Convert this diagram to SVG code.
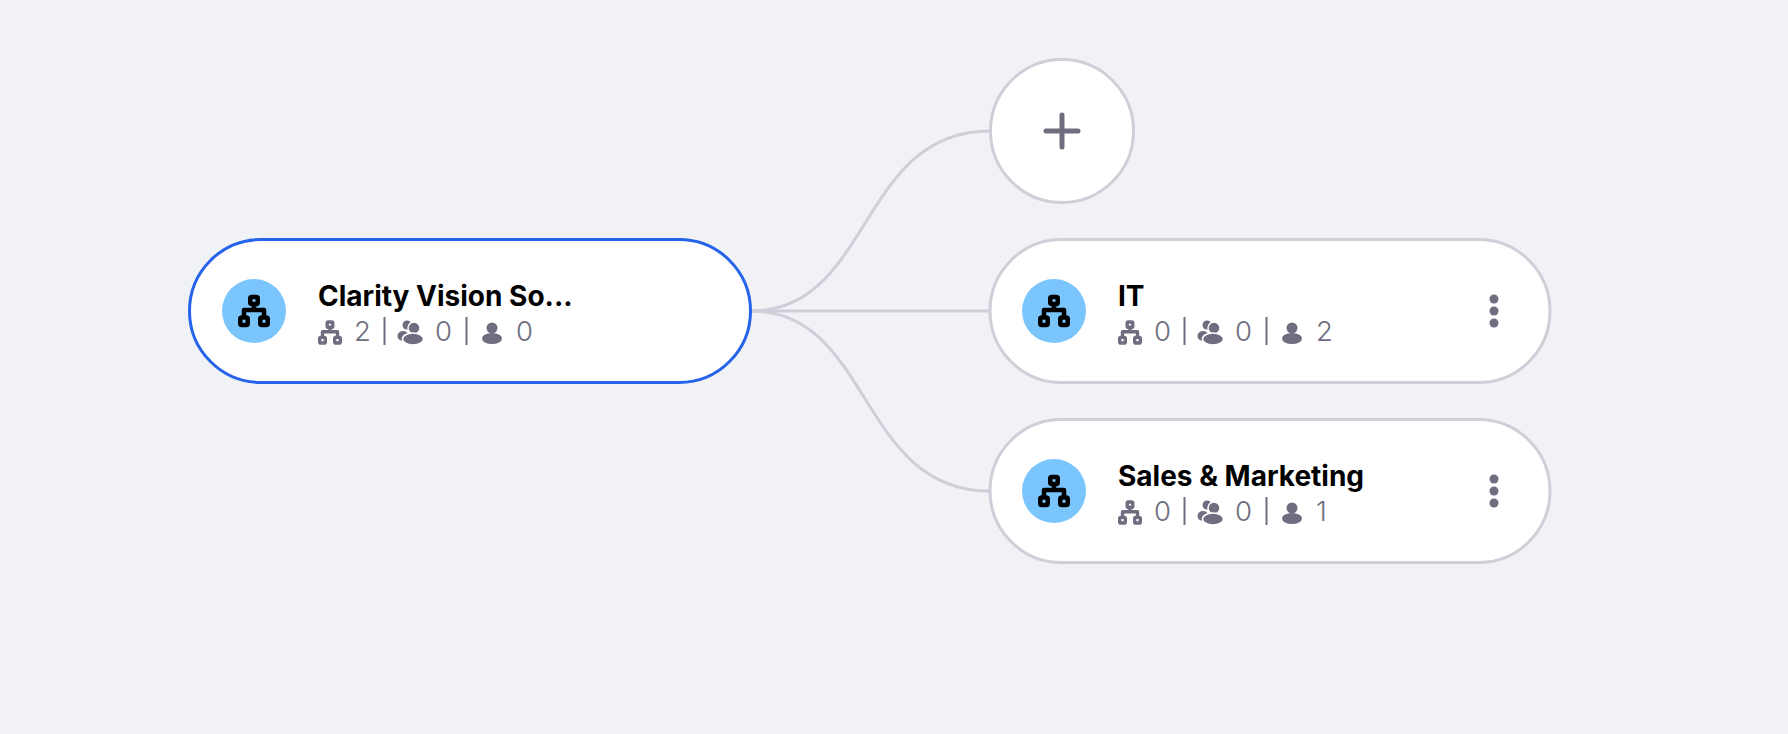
<svg xmlns="http://www.w3.org/2000/svg" width="1788" height="734" viewBox="0 0 1788 734">
<style>
.card{fill:#fff;stroke:#cfcfd9;stroke-width:3}
.sel{stroke:#2563eb}
.conn{fill:none;stroke:#cfcfd9;stroke-width:3}
.title{font-family:Inter,"Liberation Sans",sans-serif;font-weight:700;font-size:28px;fill:#000}
.stat{font-family:Inter,"Liberation Sans",sans-serif;font-weight:300;font-size:27.5px;fill:#6e6e80}
.badge{fill:#7ac5fc}
.sep{stroke:#6e6e80;stroke-width:2}
.dot{fill:#6e6e80}
.orgb{stroke:#000}
.orgs{stroke:#6e6e80}
</style>
<defs>
<g id="org" fill="none" stroke-width="4.500" stroke-linejoin="round">
<rect x="-3.750" y="-14" width="7.500" height="7" rx="1.500"/><path d="M0-7V-1M-10 7V-1H10V7"/><rect x="-13.750" y="6.500" width="7.500" height="7.500" rx="1.500"/><rect x="6.250" y="6.500" width="7.500" height="7.500" rx="1.500"/>
</g>
<g id="group" fill="#6e6e80">
<circle cx="-4" cy="-8" r="4.500"/><ellipse cx="-8" cy="3" rx="5.500" ry="5"/>
<g stroke="#fff" stroke-width="1.500"><circle cx="3" cy="-5" r="6"/><ellipse cx="2" cy="6" rx="10.500" ry="6"/></g>
</g>
<g id="user" fill="#6e6e80"><circle cx="0" cy="-5" r="5.500"/><ellipse cx="0" cy="5.500" rx="10" ry="5.500"/></g>
<g id="stats">
<g transform="translate(330 332.500) scale(.75)" class="orgs"><use href="#org"/></g>
<path class="sep" d="M384.500 317V345M466.500 317V345"/>
<use href="#group" transform="translate(411 333)"/>
<use href="#user" transform="translate(492 333)"/>
</g>
</defs>
<rect width="1788" height="734" fill="#f0f2f6"/>
<g id="connectors">
<path class="conn" d="M751 311C872 311 858 131 990 131"/>
<path class="conn" d="M751 311H990"/>
<path class="conn" d="M751 311C872 311 858 491 990 491"/>
</g>
<g id="node-root">
<rect class="card sel" x="189.500" y="239.500" width="561" height="143" rx="71.500"/>
<circle class="badge" cx="254" cy="311" r="32"/>
<g class="orgb" transform="translate(254 311)"><use href="#org"/></g>
<text class="title" x="318" y="305.500">Clarity Vision So...</text>
<use href="#stats"/>
<text class="stat" x="354" y="341">2</text><text class="stat" x="435" y="341">0</text><text class="stat" x="516" y="341">0</text>
</g>
<g id="node-add">
<circle class="card" cx="1062" cy="131" r="71.500"/>
<path d="M1062 115V147M1046 131H1078" stroke="#6e6e80" stroke-width="5" stroke-linecap="round" fill="none"/>
</g>
<g id="node-it">
<rect class="card" x="990" y="239.500" width="560" height="143" rx="71.500"/>
<circle class="badge" cx="1054" cy="311" r="32"/>
<g class="orgb" transform="translate(1054 311)"><use href="#org"/></g>
<text class="title" x="1118" y="305.500">IT</text>
<use href="#stats" transform="translate(800 0)"/>
<text class="stat" x="1154" y="341">0</text><text class="stat" x="1235" y="341">0</text><text class="stat" x="1316" y="341">2</text>
<circle class="dot" cx="1494" cy="299" r="4.500"/><circle class="dot" cx="1494" cy="311" r="4.500"/><circle class="dot" cx="1494" cy="323" r="4.500"/>
</g>
<g id="node-sales">
<rect class="card" x="990" y="419.500" width="560" height="143" rx="71.500"/>
<circle class="badge" cx="1054" cy="491" r="32"/>
<g class="orgb" transform="translate(1054 491)"><use href="#org"/></g>
<text class="title" x="1118" y="485.500">Sales &amp; Marketing</text>
<use href="#stats" transform="translate(800 180)"/>
<text class="stat" x="1154" y="521">0</text><text class="stat" x="1235" y="521">0</text><text class="stat" x="1316" y="521">1</text>
<circle class="dot" cx="1494" cy="479" r="4.500"/><circle class="dot" cx="1494" cy="491" r="4.500"/><circle class="dot" cx="1494" cy="503" r="4.500"/>
</g>
</svg>
